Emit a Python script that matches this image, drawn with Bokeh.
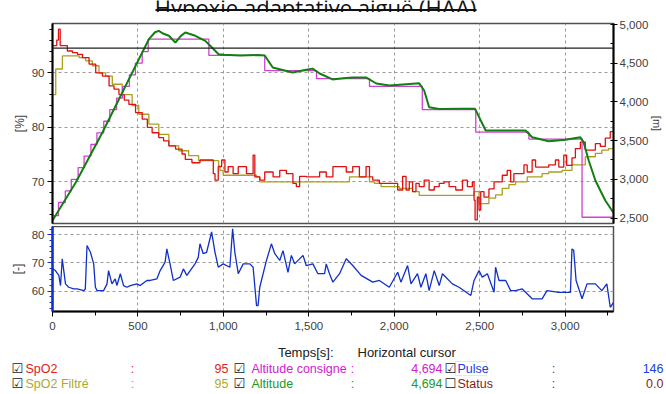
from bokeh.plotting import figure
from bokeh.layouts import column
from bokeh.models import (Range1d, LinearAxis, FixedTicker, NumeralTickFormatter,
                          Span, Label, BoxAnnotation)
from bokeh.embed import file_html
from bokeh.resources import INLINE

# ---------------- data ----------------
T_MAX = 3283
x_ticks = [0, 500, 1000, 1500, 2000, 2500, 3000]
spo2_ticks = [70, 80, 90]
alt_ticks = [2500, 3000, 3500, 4000, 4500, 5000]
pulse_ticks = [60, 70, 80]

spo2_t = [0, 10, 25, 35, 45, 58, 75, 87, 117, 146, 175, 214, 253, 292, 331, 360, 389, 420, 447, 486,
          525, 555, 583, 622, 650, 681, 720, 758, 777, 816, 863, 921, 941, 951, 970, 990, 1009, 1028,
          1057, 1087, 1116, 1135, 1174, 1184, 1213, 1242, 1291, 1330, 1369, 1407, 1427, 1446, 1485,
          1524, 1563, 1602, 1641, 1680, 1719, 1757, 1796, 1835, 1855, 1874, 1913, 1952, 1990, 2020,
          2049, 2069, 2088, 2107, 2127, 2146, 2175, 2204, 2234, 2263, 2292, 2321, 2360, 2399, 2428,
          2457, 2467, 2473, 2486, 2496, 2506, 2525, 2554, 2584, 2632, 2661, 2681, 2700, 2729, 2759,
          2778, 2807, 2827, 2865, 2904, 2943, 2963, 2992, 3009, 3040, 3060, 3089, 3118, 3143, 3177,
          3206, 3235, 3264, 3283]
spo2_v = [95, 95, 96, 98, 95, 95, 95, 94, 93.7, 93.4, 92.8, 91.6, 90, 89.4, 87.6, 87, 86, 85, 84.2, 82.7,
          81.5, 80, 79, 78.1, 77.5, 76.6, 76, 75.1, 74.1, 73.5, 74, 74, 71.5, 70.3, 72.8, 74, 71.8, 72.8,
          71.5, 72.8, 72.8, 71.5, 74.9, 70.9, 70.3, 71.8, 70.9, 72.1, 71.5, 69.7, 69.1, 71, 70.9,
          70.9, 71.8, 70.9, 72.8, 72.8, 71.8, 72.8, 70.9, 72.8, 70.9, 70.3, 69.7, 69.7, 69.7, 68.5,
          71, 68.5, 70, 68.2, 69.7, 69.1, 70.3, 68.5, 69.1, 69.7, 70, 69.1, 68.5, 70.3, 69.1,
          70, 66.6, 63, 67.2, 64.8, 68.2, 67.2, 68.7, 70, 71.2, 72.1, 70, 71.5, 71.5, 73.1,
          71.8, 74, 72.7, 72.7, 73.1, 74, 72.7, 74.9, 73, 74.4, 76.1, 77.3, 75.8, 75.8, 77,
          76.5, 78, 79.2, 79.2]

filt_t = [0, 19, 58, 117, 156, 194, 233, 272, 311, 350, 408, 466, 505, 564, 622, 681, 739, 797, 855,
          933, 972, 980, 999, 1194, 1213, 1719, 1738, 1855, 1884, 1923, 2030, 2107, 2146, 2438, 2467,
          2496, 2554, 2593, 2632, 2671, 2710, 2778, 2865, 2904, 2982, 3040, 3118, 3177, 3215, 3254, 3283]
filt_v = [86, 90.7, 93.1, 93.1, 92.8, 92.2, 91.3, 90, 89.4, 87.9, 86, 84, 82.4, 80.6, 78.7, 76.6, 75.7, 74.8, 73.9,
          73.9, 72.9, 72.1, 71.2, 70.9, 70, 70, 70.9, 70, 69.7, 69.1, 68.8, 68.2, 67.5, 67.5, 68.2,
          66, 67, 67.6, 68.8, 69.5, 70, 70.9, 71.5, 71.8, 72.1, 73.1, 74.6, 75.2, 75.8, 76.1, 76.1]

cons_t = [0, 35, 75, 110, 150, 185, 225, 260, 300, 335, 375, 410, 450, 485, 525, 560, 915, 1242,
          1545, 1855, 2164, 2477, 2788, 3099, 3283]
cons_v = [2530, 2700, 2850, 3000, 3150, 3300, 3450, 3600, 3750, 3900, 4050, 4200, 4350, 4500, 4650,
          4810, 4600, 4405, 4300, 4200, 3900, 3610, 3520, 2510, 2510]

alt_t = [0, 136, 292, 389, 486, 564, 600, 622, 650, 681, 719, 750, 777, 800, 836, 894, 933, 972, 1000,
         1100, 1200, 1242, 1289, 1405, 1470, 1522, 1563, 1639, 1700, 1755, 1837, 1895, 1971, 2050,
         2146, 2175, 2204, 2263, 2400, 2473, 2535, 2650, 2768, 2807, 2904, 3002, 3089, 3108, 3138,
         3177, 3235, 3274, 3283]
alt_v = [2467, 2959, 3605, 4035, 4466, 4810, 4900, 4918, 4880, 4854, 4767, 4850, 4897, 4880, 4854, 4789,
         4703, 4616, 4610, 4600, 4605, 4600, 4445, 4380, 4410, 4430, 4367, 4290, 4305, 4315, 4315, 4238,
         4212, 4225, 4240, 4147, 3932, 3908, 3910, 3910, 3630, 3630, 3630, 3544, 3492, 3510, 3544, 3480,
         3243, 2985, 2726, 2597, 2570]

pulse = [(0, 68), (4, 67.9), (17, 67.3), (37, 65.6), (47, 62), (57, 71.5), (66, 67.3), (76, 62.6),
         (95, 61.4), (124, 60.8), (144, 60.8), (183, 60.2), (192, 60.8), (202, 76.2), (222, 73.8),
         (241, 69.7), (251, 61.4), (261, 60.2), (299, 60.2), (319, 62.6), (328, 67.3), (348, 62.6),
         (367, 64.4), (377, 62), (397, 66.2), (416, 62), (436, 61.4), (455, 62), (494, 62.6), (513, 62),
         (552, 63.8), (572, 63.8), (611, 64.4), (630, 67.3), (659, 70.3), (669, 75), (688, 69.7),
         (707, 63.8), (747, 65), (766, 67.9), (786, 65.6), (834, 69.7), (853, 72), (863, 76.8),
         (882, 73.3), (902, 73.8), (931, 81), (951, 73.8), (970, 68.5), (999, 69.7), (1038, 68.5),
         (1054, 82.1), (1067, 73.8), (1087, 66.2), (1116, 69.7), (1155, 69.7), (1174, 68.5),
         (1194, 54.9), (1203, 54.9), (1213, 61.4), (1252, 70.9), (1281, 76.8), (1301, 73.3),
         (1330, 70.9), (1349, 74.4), (1378, 66.7), (1398, 72.7), (1417, 69.7), (1466, 72.7),
         (1485, 69.1), (1524, 69.7), (1553, 66.2), (1592, 66.2), (1602, 69.7), (1621, 66.2),
         (1641, 63.2), (1680, 66.2), (1719, 71.5), (1757, 69.1), (1806, 65.6), (1874, 63.2),
         (1913, 63.8), (1971, 61.4), (2020, 66.7), (2039, 63.2), (2078, 69.1), (2098, 62.6),
         (2136, 66.2), (2156, 61.4), (2185, 66.2), (2204, 60.2), (2234, 67.3), (2263, 62),
         (2282, 66.2), (2340, 62.6), (2379, 61.4), (2448, 58.5), (2467, 63.8), (2496, 67.3),
         (2515, 65), (2545, 66.2), (2584, 59.6), (2593, 68.5), (2613, 63.8), (2652, 63.8),
         (2681, 60.2), (2710, 60.2), (2749, 60.8), (2807, 57.3), (2865, 57.3), (2894, 60.2),
         (2963, 59.6), (3031, 59.6), (3040, 75), (3050, 74.5), (3064, 63.8), (3099, 57.3),
         (3128, 62.6), (3177, 62.6), (3215, 60.2), (3244, 62.6), (3264, 54.3), (3283, 56)]
pulse_t = [a for a, b in pulse]
pulse_v = [b for a, b in pulse]

cursor_alt = 4694
title_text = "Hypoxie adaptative aiguë (HAA)"
legend_rows = [
    [(True, "SpO2", "#e02020", "95"), (True, "Altitude consigne", "#d020d0", "4,694"),
     (True, "Pulse", "#2040e0", "146")],
    [(True, "SpO2 Filtré", "#b0a828", "95"), (True, "Altitude", "#229922", "4,694"),
     (False, "Status", "#8b1a1a", "0.0")],
]

# ---------------- styling ----------------
RED = "#e01010"
OLIVE = "#a8a020"
MAG = "#d040d0"
GREEN = "#108010"
BLUE = "#1030c8"
TXT = "#404040"
FONT = "Liberation Sans"
GRID = "#9a9a9a"
BL, BR = 52, 51          # left / right borders of the two chart panels

SP_LO, SP_HI = 62.35, 99.05
AL_LO, AL_HI = 2429, 5013
PU_LO, PU_HI = 52.8, 82.94


def style_axis(ax, color="black"):
    ax.axis_line_color = color
    ax.axis_line_width = 2
    ax.major_tick_line_color = color
    ax.minor_tick_line_color = color
    ax.major_tick_out = 5
    ax.major_tick_in = 0
    ax.minor_tick_out = 3
    ax.minor_tick_in = 0
    ax.major_label_text_font = FONT
    ax.major_label_text_font_size = "11.5px"
    ax.major_label_text_color = TXT
    ax.major_label_standoff = 3
    ax.axis_label_text_font = FONT
    ax.axis_label_text_font_size = "12px"
    ax.axis_label_text_font_style = "normal"
    ax.axis_label_text_color = TXT


def blank_fig(height, y0, y1):
    # full-width frame: x data == window pixel column, y data == window pixel row
    f = figure(width=666, height=height, x_range=Range1d(0, 666), y_range=Range1d(y1, y0),
               x_axis_location=None, y_axis_location=None, output_backend="svg",
               toolbar_location=None, min_border_left=0, min_border_right=0,
               min_border_top=0, min_border_bottom=0)
    f.frame_align = False
    f.outline_line_color = None
    f.grid.grid_line_color = None
    f.background_fill_color = "white"
    f.border_fill_color = "white"
    return f


# ---------------- title strip (window y 0..12) ----------------
tf = blank_fig(12, 0, 12)
tf.add_layout(Label(x=315, y=6, text=title_text, text_align="center", text_baseline="alphabetic",
                    text_font="Open Sans", text_font_size="22px", text_color="#111111"))
tf.add_layout(BoxAnnotation(left=155, right=476, top=8.5, bottom=10.5, fill_color="#111111",
                            fill_alpha=1, line_color=None))

# ---------------- top panel (window y 12..226, frame 23..223) ----------------
top = figure(width=666, height=214, x_range=Range1d(0, T_MAX), y_range=Range1d(SP_LO, SP_HI),
             x_axis_location=None, output_backend="svg", toolbar_location=None,
             min_border_left=BL, min_border_right=BR, min_border_top=11, min_border_bottom=3)
top.outline_line_color = "#505050"
top.outline_line_width = 1.5
top.background_fill_color = "white"
top.border_fill_color = "white"

top.yaxis.ticker = FixedTicker(ticks=spo2_ticks, minor_ticks=list(range(64, 99, 2)))
style_axis(top.yaxis[0])
top.yaxis.axis_label = "[%]"
top.yaxis.axis_label_standoff = 2
top.ygrid.grid_line_color = GRID
top.ygrid.grid_line_dash = "3 3"
top.xgrid.ticker = FixedTicker(ticks=x_ticks)
top.xgrid.grid_line_color = GRID
top.xgrid.grid_line_dash = "3 3"

top.extra_y_ranges = {"alt": Range1d(AL_LO, AL_HI)}
alt_axis = LinearAxis(y_range_name="alt",
                      ticker=FixedTicker(ticks=alt_ticks, minor_ticks=list(range(2500, 5001, 250))),
                      formatter=NumeralTickFormatter(format="0,0"))
style_axis(alt_axis)
alt_axis.major_tick_out = 4
alt_axis.minor_tick_in = 3
alt_axis.minor_tick_out = 0
alt_axis.major_label_standoff = 2
alt_axis.axis_label = "[m]"
alt_axis.axis_label_text_font_size = "11px"
alt_axis.axis_label_standoff = 0
top.add_layout(alt_axis, "right")

top.step(filt_t, filt_v, mode="after", line_color=OLIVE, line_width=1.3)
top.step(spo2_t, spo2_v, mode="after", line_color=RED, line_width=1.3)
top.step(cons_t, cons_v, mode="after", line_color=MAG, line_width=1.3, y_range_name="alt")
top.line(alt_t, alt_v, line_color=GREEN, line_width=2.0, y_range_name="alt")

top.add_layout(Span(location=cursor_alt, dimension="width", y_range_name="alt",
                    line_color="#202020", line_width=1.2))

# ---------------- bottom panel (window y 226..340, frame 226..311) ----------------
bot = figure(width=666, height=114, x_range=top.x_range, y_range=Range1d(PU_LO, PU_HI),
             output_backend="svg", toolbar_location=None,
             min_border_left=BL, min_border_right=BR, min_border_top=0, min_border_bottom=29)
bot.outline_line_color = "#505050"
bot.outline_line_width = 1.5
bot.background_fill_color = "white"
bot.border_fill_color = "white"

bot.yaxis.ticker = FixedTicker(ticks=pulse_ticks, minor_ticks=list(range(54, 83, 2)))
style_axis(bot.yaxis[0], color="#1030d0")
bot.yaxis.axis_line_width = 2.5
bot.yaxis.axis_label = "[-]"
bot.yaxis.axis_label_standoff = 4

bot.xaxis.ticker = FixedTicker(ticks=x_ticks, minor_ticks=list(range(0, 3284, 250)))
bot.xaxis.formatter = NumeralTickFormatter(format="0,0")
style_axis(bot.xaxis[0])
bot.xaxis.minor_tick_out = 4
bot.xaxis.major_label_standoff = 5

for g in (bot.xgrid, bot.ygrid):
    g.grid_line_color = GRID
    g.grid_line_dash = "3 3"

bot.line(pulse_t, pulse_v, line_color=BLUE, line_width=1.3)

# ---------------- legend strip (window y 340..394) ----------------
lf = blank_fig(54, 340, 394)
lf.add_layout(Label(x=333, y=352, text="Temps[s]:", text_align="right", text_baseline="middle",
                    text_font=FONT, text_font_size="13px", text_color="#202020"))
lf.add_layout(Label(x=357, y=352, text="Horizontal cursor", text_align="left", text_baseline="middle",
                    text_font=FONT, text_font_size="13px", text_color="#202020"))

block_x = [(11, 25, 132, 228), (233, 251, 352, 442), (444, 457, 553, 663)]
row_y = [368, 383]
for r, row in enumerate(legend_rows):
    for b, (checked, name, col, val) in enumerate(row):
        cx, nx, colon_x, vx = block_x[b]
        yy = row_y[r]
        lf.add_layout(Label(x=cx, y=yy, text="☑" if checked else "☐", text_align="left",
                            text_baseline="middle", text_font="DejaVu Sans", text_font_size="13px",
                            text_color="#202020"))
        lf.add_layout(Label(x=nx, y=yy, text=name, text_align="left", text_baseline="middle",
                            text_font=FONT, text_font_size="12.5px", text_color=col))
        lf.add_layout(Label(x=colon_x, y=yy, text=":", text_align="center", text_baseline="middle",
                            text_font=FONT, text_font_size="12.5px", text_color=col))
        lf.add_layout(Label(x=vx, y=yy, text=val, text_align="right", text_baseline="middle",
                            text_font=FONT, text_font_size="12.5px", text_color=col))
lf.add_layout(BoxAnnotation(left=455, right=486, top=361, bottom=375, fill_alpha=0,
                            line_color="#806030", line_dash="1 1", line_width=1))

layout = column(tf, top, bot, lf, spacing=0)

open("out.html", "w").write(file_html(layout, INLINE))
